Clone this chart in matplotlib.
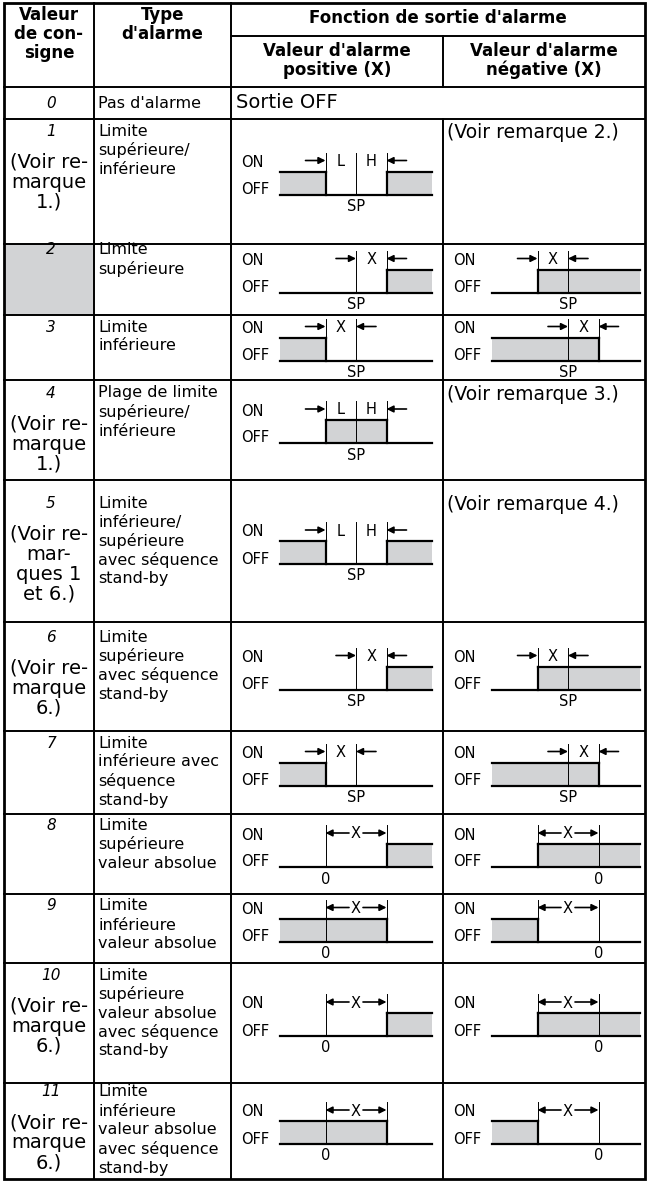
import matplotlib
matplotlib.use("Agg")
import matplotlib.pyplot as plt
from matplotlib.patches import Rectangle

plt.rcParams['font.family'] = ['DejaVu Sans']

W, H = 649, 1182

# ---- table content ----
header_code = ["Valeur", "de con-", "signe"]
header_type = ["Type", "d'alarme"]
header_func = "Fonction de sortie d'alarme"
header_pos = ["Valeur d'alarme", "positive (X)"]
header_neg = ["Valeur d'alarme", "négative (X)"]

codes = ["0", "1", "2", "3", "4", "5", "6", "7", "8", "9", "10", "11"]
code_notes = [
    [], ["(Voir re-", "marque", "1.)"], [], [],
    ["(Voir re-", "marque", "1.)"],
    ["(Voir re-", "mar-", "ques 1", "et 6.)"],
    ["(Voir re-", "marque", "6.)"], [], [], [],
    ["(Voir re-", "marque", "6.)"],
    ["(Voir re-", "marque", "6.)"],
]
alarm_types = [
    ["Pas d'alarme"],
    ["Limite", "supérieure/", "inférieure"],
    ["Limite", "supérieure"],
    ["Limite", "inférieure"],
    ["Plage de limite", "supérieure/", "inférieure"],
    ["Limite", "inférieure/", "supérieure", "avec séquence", "stand-by"],
    ["Limite", "supérieure", "avec séquence", "stand-by"],
    ["Limite", "inférieure avec", "séquence", "stand-by"],
    ["Limite", "supérieure", "valeur absolue"],
    ["Limite", "inférieure", "valeur absolue"],
    ["Limite", "supérieure", "valeur absolue", "avec séquence", "stand-by"],
    ["Limite", "inférieure", "valeur absolue", "avec séquence", "stand-by"],
]
row0_output = "Sortie OFF"
pos_diagrams = [None, "band_out", "hi", "lo", "band_in", "band_out", "hi", "lo",
                "abs_hi", "abs_lo", "abs_hi", "abs_lo"]
neg_diagrams = [None, "(Voir remarque 2.)", "hi_neg", "lo_neg", "(Voir remarque 3.)",
                "(Voir remarque 4.)", "hi_neg", "lo_neg",
                "abs_hi_neg", "abs_lo_neg", "abs_hi_neg", "abs_lo_neg"]
highlight_row = 2

# diagram shapes, in units of the mark offset from the centre (ends at +-E)
E = 2.5
LH = [(-0.5, "L"), (0.5, "H")]
shapes = {
    "band_out":   dict(fill=[(-E, -1), (1, E)], ref=0, marks=(-1, 1), arrows="out", labels=LH),
    "band_in":    dict(fill=[(-1, 1)], ref=0, marks=(-1, 1), arrows="out", labels=LH),
    "hi":         dict(fill=[(1, E)], ref=0, marks=(0, 1), arrows="out", labels=[(0.5, "X")]),
    "hi_neg":     dict(fill=[(-1, E)], ref=0, marks=(-1, 0), arrows="out", labels=[(-0.5, "X")]),
    "lo":         dict(fill=[(-E, -1)], ref=0, marks=(-1, 0), arrows="out", labels=[(-0.5, "X")]),
    "lo_neg":     dict(fill=[(-E, 1)], ref=0, marks=(0, 1), arrows="out", labels=[(0.5, "X")]),
    "abs_hi":     dict(fill=[(1, E)], ref=-1, marks=(-1, 1), arrows="in", labels=[(0, "X")]),
    "abs_hi_neg": dict(fill=[(-1, E)], ref=1, marks=(-1, 1), arrows="in", labels=[(0, "X")]),
    "abs_lo":     dict(fill=[(-E, 1)], ref=-1, marks=(-1, 1), arrows="in", labels=[(0, "X")]),
    "abs_lo_neg": dict(fill=[(-E, -1)], ref=1, marks=(-1, 1), arrows="in", labels=[(0, "X")]),
}

# ---- layout (pixels) ----
col_x = [4, 94, 231, 443, 645]
top_y, sub_y, head_y = 3, 36, 87
row_edges = [87, 119, 244, 315, 380, 480, 622, 731, 814, 894, 963, 1083, 1179]
row_pad = [0, 12, 6, 12, 13, 23, 15, 12, 11, 12, 12, 9]
GRAY = "#d2d3d5"
LW_IN, LW_OUT = 1.4, 2.0

fig = plt.figure(figsize=(W / 100, H / 100), dpi=100)
ax = fig.add_axes([0, 0, 1, 1])
ax.set_xlim(0, W)
ax.set_ylim(H, 0)
ax.axis("off")


def hline(y, x0, x1, lw=LW_IN):
    ax.plot([x0, x1], [y, y], color="black", lw=lw, solid_capstyle="projecting")


def vline(x, y0, y1, lw=LW_IN):
    ax.plot([x, x], [y0, y1], color="black", lw=lw, solid_capstyle="projecting")


def draw_diagram(kind, left, right, base):
    s = shapes[kind]
    xc = left + 125
    k = 30.5
    X = lambda u: min(xc + u * k, right - 5)
    top, on = base - 42, base - 23
    ax.text(left + 10, base - 32, "ON", fontsize=10.5, ha="left", va="center")
    ax.text(left + 10, base - 5, "OFF", fontsize=10.5, ha="left", va="center")
    for a, b in s["fill"]:
        ax.add_patch(Rectangle((X(a), on), X(b) - X(a), base - on, facecolor=GRAY,
                               edgecolor="none", zorder=1))
    for u in set(s["marks"]) | {s["ref"]}:
        ax.plot([X(u), X(u)], [top, base], color="black", lw=0.7, zorder=2)
    ax.plot([X(-E), X(E)], [base, base], color="black", lw=1.6, zorder=3)
    for a, b in s["fill"]:
        ax.plot([X(a), X(b)], [on, on], color="black", lw=1.6, zorder=3)
        for u in (a, b):
            if abs(u) < E:
                ax.plot([X(u), X(u)], [on, base], color="black", lw=1.6, zorder=3)
    ya = base - 34
    a, b = s["marks"]
    arrow = dict(arrowstyle="-|>", lw=1.2, color="black", mutation_scale=10,
                 shrinkA=0, shrinkB=0)
    if s["arrows"] == "out":
        ax.annotate("", xy=(X(a), ya), xytext=(X(a) - 20, ya), arrowprops=arrow)
        ax.annotate("", xy=(X(b), ya), xytext=(X(b) + 20, ya), arrowprops=arrow)
    else:
        mid = (X(a) + X(b)) / 2
        ax.annotate("", xy=(X(a), ya), xytext=(mid - 7, ya), arrowprops=arrow)
        ax.annotate("", xy=(X(b), ya), xytext=(mid + 7, ya), arrowprops=arrow)
    for u, lab in s["labels"]:
        ax.text(X(u), base - 33, lab, fontsize=10.5, ha="center", va="center")
    ax.text(X(s["ref"]), base + 12, "SP" if s["ref"] == 0 else "0",
            fontsize=10.5, ha="center", va="center")


# highlighted cell
r0, r1 = row_edges[highlight_row], row_edges[highlight_row + 1]
ax.add_patch(Rectangle((col_x[0], r0), col_x[1] - col_x[0], r1 - r0,
                       facecolor=GRAY, edgecolor="none", zorder=0))

# header
c1 = (col_x[0] + col_x[1]) / 2
c2 = (col_x[1] + col_x[2]) / 2
c34 = (col_x[2] + col_x[4]) / 2
c3 = (col_x[2] + col_x[3]) / 2
c4 = (col_x[3] + col_x[4]) / 2
hb = dict(fontsize=12, fontweight="bold", ha="center", va="center")
for i, t in enumerate(header_code):
    ax.text(c1, 15 + 19 * i, t, **hb)
for i, t in enumerate(header_type):
    ax.text(c2, 15 + 19 * i, t, **hb)
ax.text(c34, 18, header_func, **hb)
for i, t in enumerate(header_pos):
    ax.text(c3, 51 + 19 * i, t, **hb)
for i, t in enumerate(header_neg):
    ax.text(c4, 51 + 19 * i, t, **hb)

# body
for r in range(len(codes)):
    y0, y1 = row_edges[r], row_edges[r + 1]
    yt = (y0 + y1) / 2 if r == 0 else y0 + row_pad[r]
    ax.text(c1 + 2, yt, codes[r], fontsize=11, style="italic", ha="center", va="center")
    for i, t in enumerate(code_notes[r]):
        ax.text(c1, yt + 31 + 20 * i, t, fontsize=14, ha="center", va="center")
    for i, t in enumerate(alarm_types[r]):
        ax.text(col_x[1] + 4, yt + 19 * i, t, fontsize=11.5, ha="left", va="center")
    if r == 0:
        ax.text(col_x[2] + 5, yt, row0_output, fontsize=14, ha="left", va="center")
        continue
    base = (y0 + y1) / 2 + 13
    draw_diagram(pos_diagrams[r], col_x[2], col_x[3], base)
    if neg_diagrams[r] in shapes:
        draw_diagram(neg_diagrams[r], col_x[3], col_x[4], base)
    else:
        ax.text(col_x[3] + 4, yt + 2, neg_diagrams[r], fontsize=13.5, ha="left", va="center")

# grid lines
for y in row_edges[1:-1]:
    hline(y, col_x[0], col_x[4])
hline(head_y, col_x[0], col_x[4])
hline(sub_y, col_x[2], col_x[4])
vline(col_x[1], top_y, row_edges[-1])
vline(col_x[2], top_y, row_edges[-1])
vline(col_x[3], sub_y, head_y)
vline(col_x[3], row_edges[1], row_edges[-1])
ax.add_patch(Rectangle((col_x[0], top_y), col_x[4] - col_x[0], row_edges[-1] - top_y,
                       facecolor="none", edgecolor="black", lw=LW_OUT, zorder=5))

fig.savefig("out.png", dpi=100)
